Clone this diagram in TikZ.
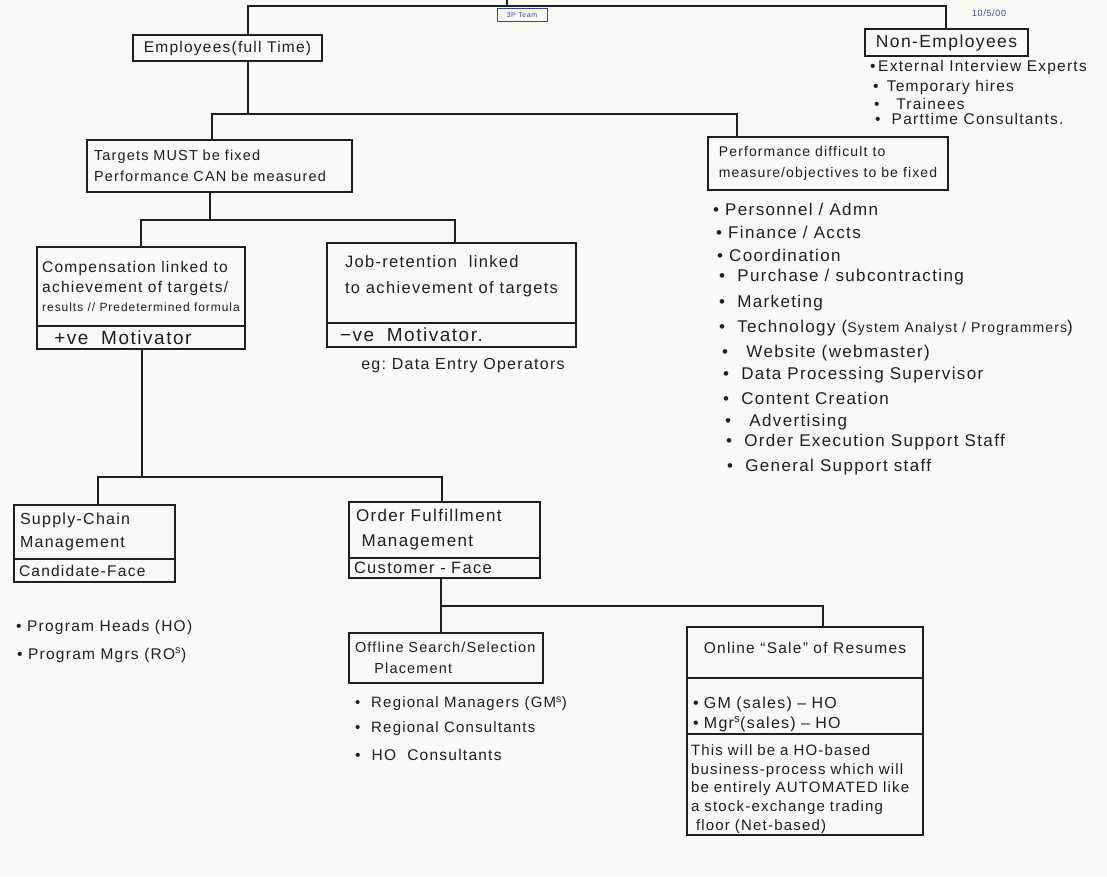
\documentclass[tikz,border=0pt]{standalone}
\usepackage{fontspec}
\setmainfont{Liberation Sans}[LetterSpace=8]
\definecolor{paper}{HTML}{FAFAF4}
\definecolor{ink}{HTML}{1E1E1E}
\definecolor{blueink}{HTML}{34469A}
\begin{document}
\begin{tikzpicture}[x=1pt,y=-1pt,
  every node/.style={text=ink},
  box/.style={draw=ink, line width=1.4pt, rectangle, inner sep=0pt, align=left},
  conn/.style={draw=ink, line width=2.2pt},
  item/.style={anchor=west, inner sep=0pt},
  fs/.style 2 args={font=\fontsize{#1}{#2}\selectfont}]
\useasboundingbox[fill=paper] (0,0) rectangle (1107,876);

% ---- top level
\node[box, draw=blueink, line width=0.8pt, text=blueink, fs={7}{8}, minimum width=50, minimum height=13] (team) at (522,15) {3P Team};
\node[text=blueink, fs={9}{10}, inner sep=0pt] (date) at (989,13) {10/5/00};

\node[box, fs={15.5}{18}, minimum width=189, minimum height=26] (emp) at (227.5,48) {Employees(full Time)};
\node[box, fs={17.5}{20}, minimum width=163, minimum height=27] (nonemp) at (946.5,42.5) {Non-Employees};

\node[item, fs={15.5}{17}] (ne1) at (870,67) {•\,External Interview Experts};
\node[item, fs={15.5}{17}] (ne2) at (873,87) {•\ \,Temporary hires};
\node[item, fs={15.5}{17}] (ne3) at (874,104) {•\ \ \ Trainees};
\node[item, fs={15.5}{17}] (ne4) at (875,119) {•\ \ Parttime Consultants.};

\coordinate (root) at (507,0);
\coordinate (j1) at (507,6);
\coordinate (j1L) at (248,6);
\coordinate (j1R) at (946,6);
\draw[conn] (root) -- (j1);
\draw[conn] (j1L |- emp.north) -- (j1L) -- (j1R) -- (j1R |- nonemp.north);

% ---- second level
\node[box, fs={14.5}{21}, minimum width=265, minimum height=52, text width=251] (tgt) at (219.5,166) {Targets MUST be fixed\\Performance CAN be measured};
\node[box, fs={14}{21}, minimum width=240, minimum height=53] (perf) at (828,163.5) {Performance difficult to\\measure/objectives to be fixed};

\coordinate (j2) at (248,114);
\coordinate (j2L) at (212,114);
\coordinate (j2R) at (737,114);
\draw[conn] (j2 |- emp.south) -- (j2);
\draw[conn] (j2L |- tgt.north) -- (j2L) -- (j2R) -- (j2R |- perf.north);

% ---- list under perf
\node[item, fs={17}{19}] (r1) at (713,209) {•\ Personnel / Admn};
\node[item, fs={17}{19}] (r2) at (716,232) {•\ Finance / Accts};
\node[item, fs={17}{19}] (r3) at (717,255) {•\ Coordination};
\node[item, fs={17}{19}] (r4) at (719,277) {•\ \ Purchase / subcontracting};
\node[item, fs={17}{19}] (r5) at (719,303) {•\ \ Marketing};
\node[item, fs={17}{19}] (r6) at (719,328) {•\ \ Technology ({\fontsize{14}{16}\selectfont System Analyst / Programmers})};
\node[item, fs={17}{19}] (r7) at (722,353) {•\ \ \ Website (webmaster)};
\node[item, fs={17}{19}] (r8) at (723,375) {•\ \ Data Processing Supervisor};
\node[item, fs={17}{19}] (r9) at (723,398) {•\ \ Content Creation};
\node[item, fs={17}{19}] (r10) at (725,422) {•\ \ \ Advertising};
\node[item, fs={17}{19}] (r11) at (726,442) {•\ \ Order Execution Support Staff};
\node[item, fs={17}{19}] (r12) at (727,467) {•\ \ General Support staff};

% ---- third level
\node[box, fs={15.5}{19.5}, minimum width=208, minimum height=79] (comp) at (141,286.5)
  {Compensation linked to\\achievement of targets/\\{\fontsize{12}{14}\selectfont results // Predetermined formula}};
\node[box, fs={19}{20}, minimum width=208, minimum height=23, text width=186] (compB) at (141,337.5) {\ +ve\ \ Motivator};

\node[box, fs={16.5}{26}, minimum width=249, minimum height=80, text depth=16pt] (job) at (451.5,283)
  {Job-retention\ \ linked\\to achievement of targets};
\node[box, fs={19}{20}, minimum width=249, minimum height=24, text width=223] (jobB) at (451.5,335) {−ve\ \ Motivator.};
\node[fs={16}{18}, inner sep=0pt] (eg) at (463,366) {eg:\ Data Entry Operators};

\coordinate (j3) at (210,220);
\coordinate (j3L) at (141,220);
\coordinate (j3R) at (455,220);
\draw[conn] (j3 |- tgt.south) -- (j3);
\draw[conn] (j3L |- comp.north) -- (j3L) -- (j3R) -- (j3R |- job.north);

% ---- fourth level
\node[box, fs={16}{23}, minimum width=161, minimum height=54, text width=149] (sup) at (94.5,532) {Supply-Chain\\Management};
\node[box, fs={15.5}{17}, minimum width=161, minimum height=23, text width=151] (supB) at (94.5,570.5) {Candidate-Face};

\node[box, fs={17}{25}, minimum width=191, minimum height=56, text width=177] (ord) at (444.5,530) {Order Fulfillment\\\ Management};
\node[box, fs={16.5}{17}, minimum width=191, minimum height=20, text width=181] (ordB) at (444.5,568) {Customer - Face};

\coordinate (j4) at (142,477);
\coordinate (j4L) at (98,477);
\coordinate (j4R) at (442,477);
\draw[conn] (j4 |- compB.south) -- (j4);
\draw[conn] (j4L |- sup.north) -- (j4L) -- (j4R) -- (j4R |- ord.north);

\node[item, fs={15.5}{17}] (p1) at (16,627) {•\ Program Heads (HO)};
\node[item, fs={15.5}{17}] (p2) at (17,655) {•\ Program Mgrs (RO\textsuperscript{s})};

% ---- fifth level
\node[box, fs={14.5}{21}, minimum width=194, minimum height=50, text width=182] (off) at (446,658) {Offline Search/Selection\\\ \ \ \ Placement};

\node[item, fs={15}{17}] (o1) at (355,704) {•\ \ Regional Managers (GM\textsuperscript{s})};
\node[item, fs={15}{17}] (o2) at (355,729) {•\ \ Regional Consultants};
\node[item, fs={15.5}{17}] (o3) at (355,755) {•\ \ HO\ \ Consultants};

\node[box, fs={15.5}{18}, minimum width=236, minimum height=51, text depth=10pt] (onl) at (805,652.5) {Online “Sale” of Resumes};
\node[box, fs={16}{20}, minimum width=236, minimum height=56, text width=224, text height=29pt] (onlM) at (805,706)
  {•\ GM (sales) – HO\\•\ Mgr\textsuperscript{s}(sales) – HO};
\node[box, fs={15}{18.8}, minimum width=236, minimum height=101, text width=228, text height=20pt] (onlB) at (805,784.5)
  {This will be a HO-based\\business-process which will\\be entirely AUTOMATED like\\a stock-exchange trading\\\ floor (Net-based)};

\coordinate (j5) at (441,606);
\coordinate (j5R) at (823,606);
\draw[conn] (j5 |- ordB.south) -- (j5 |- off.north);
\draw[conn] (j5) -- (j5R) -- (j5R |- onl.north);
\end{tikzpicture}
\end{document}
